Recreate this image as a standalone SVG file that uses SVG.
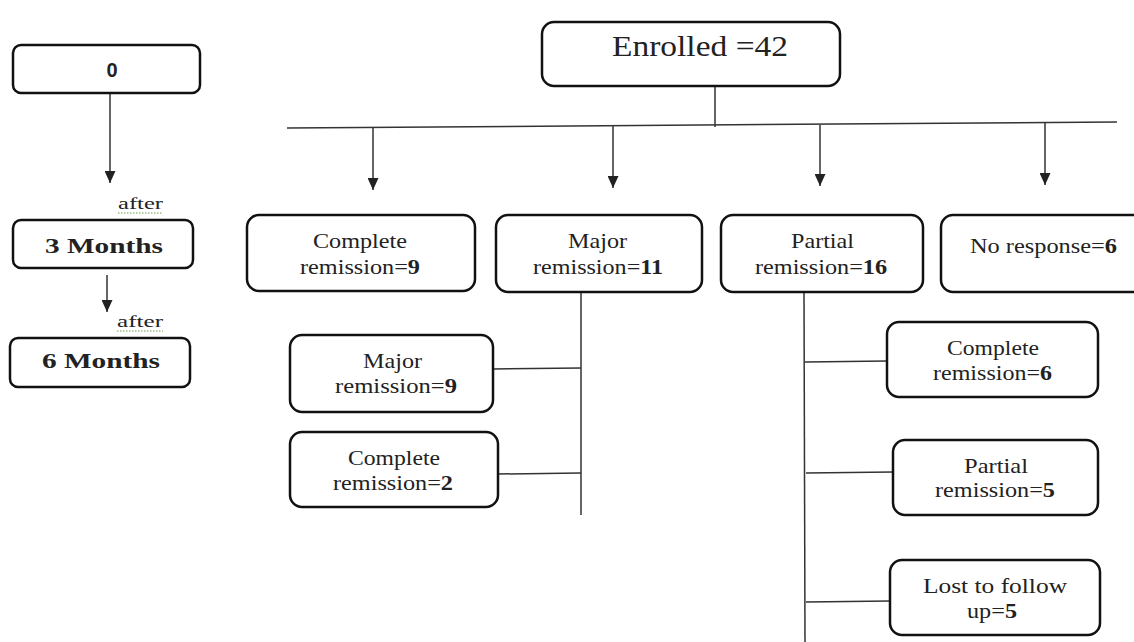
<svg xmlns="http://www.w3.org/2000/svg" width="1134" height="642" viewBox="0 0 1134 642">
<defs>
<marker id="ah" markerWidth="12" markerHeight="11" refX="12" refY="5.5" orient="auto" markerUnits="userSpaceOnUse" viewBox="0 0 12 11">
<path d="M0,0 L12,5.5 L0,11 Z" fill="#222"/>
</marker>
</defs>
<style>
.box{fill:#fff;stroke:#111;stroke-width:2.5}
.ln{stroke:#333;stroke-width:1.5;fill:none}
.t{font-family:'Liberation Serif','Times New Roman','DejaVu Serif',serif;font-size:22px;fill:#222}
.tb{font-family:'Liberation Serif','Times New Roman','DejaVu Serif',serif;font-size:22px;font-weight:bold;fill:#222}
.te{font-family:'Liberation Serif','Times New Roman','DejaVu Serif',serif;font-size:29px;fill:#222}
.af{font-family:'Liberation Serif','Times New Roman','DejaVu Serif',serif;font-size:16px;fill:#222}
.t0{font-family:'Liberation Sans',Arial,sans-serif;font-size:20px;font-weight:bold;fill:#222;text-anchor:middle}
.sq{stroke:#6a9a4a;stroke-width:1;stroke-dasharray:1.5 1.5;fill:none}
.bd{font-weight:bold}
</style>
<rect width="1134" height="642" fill="#fff"/>
<g id="connectors">
<line class="ln" x1="110" y1="93" x2="110" y2="183" marker-end="url(#ah)"/>
<line class="ln" x1="107" y1="275" x2="107" y2="312" marker-end="url(#ah)"/>
<line class="ln" x1="715" y1="86" x2="715" y2="127"/>
<line class="ln" x1="287" y1="128" x2="1117" y2="122"/>
<line class="ln" x1="373" y1="128" x2="373" y2="190" marker-end="url(#ah)"/>
<line class="ln" x1="613" y1="126" x2="613" y2="188" marker-end="url(#ah)"/>
<line class="ln" x1="820" y1="125" x2="820" y2="186" marker-end="url(#ah)"/>
<line class="ln" x1="1045" y1="123" x2="1045" y2="185" marker-end="url(#ah)"/>
<line class="ln" x1="581" y1="292" x2="581" y2="515"/>
<line class="ln" x1="493" y1="369" x2="581" y2="368"/>
<line class="ln" x1="498" y1="474" x2="581" y2="473"/>
<line class="ln" x1="804" y1="292" x2="805" y2="642"/>
<line class="ln" x1="805" y1="362" x2="887" y2="361"/>
<line class="ln" x1="806" y1="473" x2="893" y2="472"/>
<line class="ln" x1="806" y1="602" x2="890" y2="601"/>
</g>
<g id="after1">
<text class="af" x="118" y="209" textLength="45" lengthAdjust="spacingAndGlyphs">after</text>
<line class="sq" x1="118" y1="213" x2="163" y2="213"/>
</g>
<g id="after2">
<text class="af" x="117" y="327" textLength="46" lengthAdjust="spacingAndGlyphs">after</text>
<line class="sq" x1="117" y1="331" x2="163" y2="331"/>
</g>
<g id="n0">
<rect class="box" x="13" y="45" width="187" height="48" rx="8"/>
<text class="t0" x="112" y="77">0</text>
</g>
<g id="n3m">
<rect class="box" x="13" y="220" width="180" height="48" rx="8"/>
<text class="tb" x="45" y="253" textLength="118" lengthAdjust="spacingAndGlyphs">3 Months</text>
</g>
<g id="n6m">
<rect class="box" x="10" y="338" width="180" height="49" rx="8"/>
<text class="tb" x="42" y="368" textLength="118" lengthAdjust="spacingAndGlyphs">6 Months</text>
</g>
<g id="enrolled">
<rect class="box" x="542" y="22" width="298" height="64" rx="12"/>
<text class="te" x="612" y="56" textLength="176" lengthAdjust="spacingAndGlyphs">Enrolled =42</text>
</g>
<g id="cr9">
<rect class="box" x="247" y="215" width="228" height="76" rx="12"/>
<text class="t" x="313" y="248" textLength="94" lengthAdjust="spacingAndGlyphs">Complete</text>
<text class="t" x="300" y="274" textLength="120" lengthAdjust="spacingAndGlyphs">remission=<tspan class="bd">9</tspan></text>
</g>
<g id="mr11">
<rect class="box" x="496" y="215" width="206" height="77" rx="12"/>
<text class="t" x="568" y="248" textLength="59" lengthAdjust="spacingAndGlyphs">Major</text>
<text class="t" x="533" y="274" textLength="130" lengthAdjust="spacingAndGlyphs">remission=<tspan class="bd">11</tspan></text>
</g>
<g id="pr16">
<rect class="box" x="721" y="215" width="202" height="77" rx="12"/>
<text class="t" x="791" y="248" textLength="63" lengthAdjust="spacingAndGlyphs">Partial</text>
<text class="t" x="755" y="274" textLength="132" lengthAdjust="spacingAndGlyphs">remission=<tspan class="bd">16</tspan></text>
</g>
<g id="nr6">
<rect class="box" x="941" y="215" width="210" height="77" rx="12"/>
<text class="t" x="970" y="253" textLength="147" lengthAdjust="spacingAndGlyphs">No response=<tspan class="bd">6</tspan></text>
</g>
<g id="mr9">
<rect class="box" x="290" y="335" width="203" height="77" rx="12"/>
<text class="t" x="363" y="368" textLength="59" lengthAdjust="spacingAndGlyphs">Major</text>
<text class="t" x="335" y="393" textLength="122" lengthAdjust="spacingAndGlyphs">remission=<tspan class="bd">9</tspan></text>
</g>
<g id="cr2">
<rect class="box" x="290" y="432" width="208" height="75" rx="12"/>
<text class="t" x="348" y="465" textLength="92" lengthAdjust="spacingAndGlyphs">Complete</text>
<text class="t" x="333" y="490" textLength="120" lengthAdjust="spacingAndGlyphs">remission=<tspan class="bd">2</tspan></text>
</g>
<g id="cr6">
<rect class="box" x="887" y="322" width="211" height="75" rx="12"/>
<text class="t" x="947" y="355" textLength="92" lengthAdjust="spacingAndGlyphs">Complete</text>
<text class="t" x="933" y="380" textLength="119" lengthAdjust="spacingAndGlyphs">remission=<tspan class="bd">6</tspan></text>
</g>
<g id="pr5">
<rect class="box" x="893" y="440" width="205" height="75" rx="12"/>
<text class="t" x="964" y="473" textLength="64" lengthAdjust="spacingAndGlyphs">Partial</text>
<text class="t" x="935" y="497" textLength="120" lengthAdjust="spacingAndGlyphs">remission=<tspan class="bd">5</tspan></text>
</g>
<g id="lost5">
<rect class="box" x="890" y="560" width="210" height="75" rx="12"/>
<text class="t" x="923" y="593" textLength="144" lengthAdjust="spacingAndGlyphs">Lost to follow</text>
<text class="t" x="967" y="618" textLength="50" lengthAdjust="spacingAndGlyphs">up=<tspan class="bd">5</tspan></text>
</g>
</svg>
